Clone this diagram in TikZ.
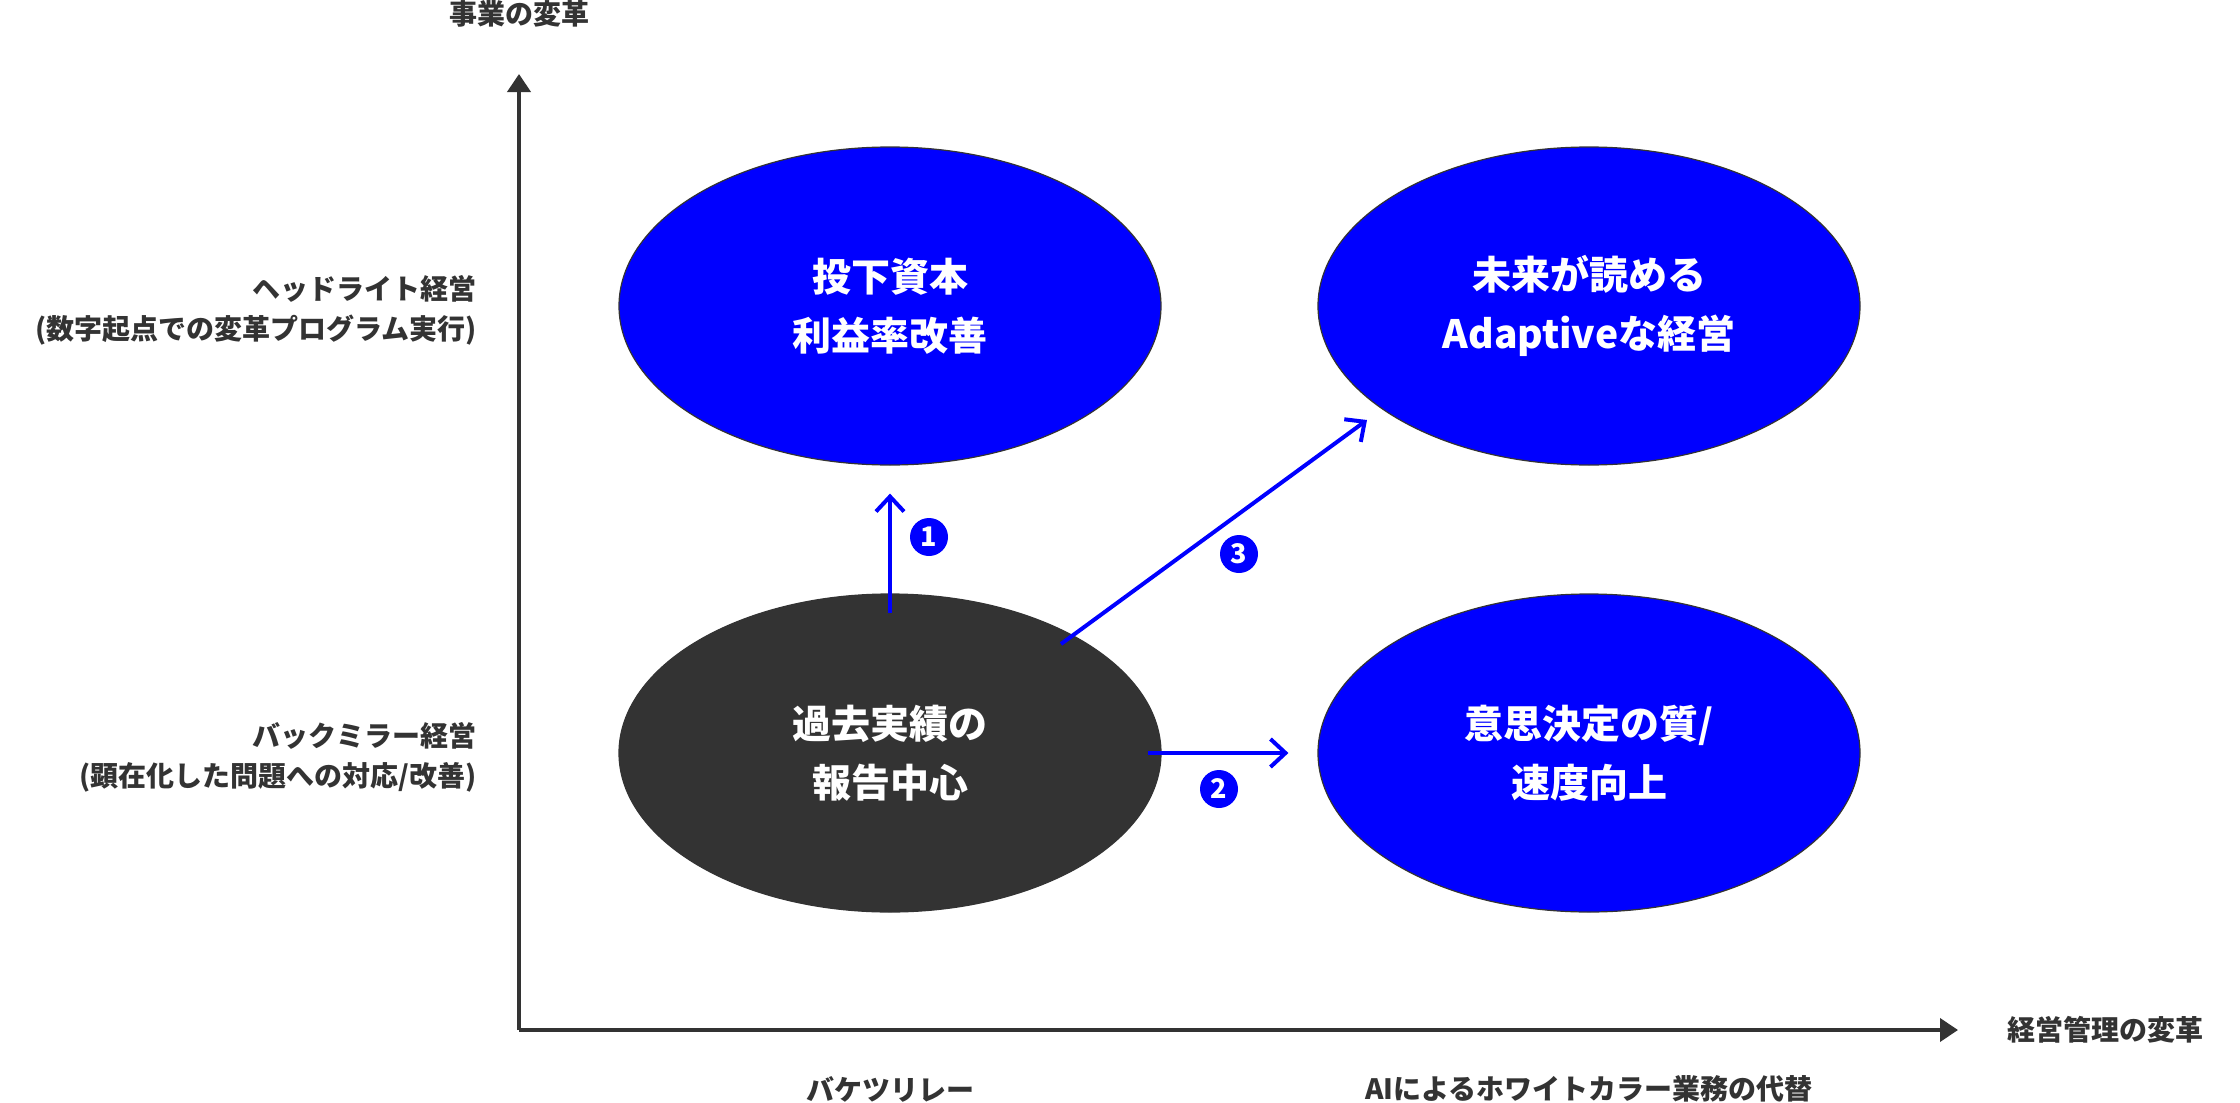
\documentclass[tikz,border=0pt]{standalone}
\usepackage{fontspec}
\setmainfont{Noto Sans CJK JP}
\usetikzlibrary{positioning, calc, arrows.meta, shapes.geometric}
\definecolor{ink}{HTML}{333333}
\definecolor{vivid}{HTML}{0000FF}

\begin{document}
\begin{tikzpicture}[x=0.5pt, y=-0.5pt,
	bubble/.style={ellipse, draw=ink, line width=0.6pt, fill=vivid, text=white, minimum width=271pt, minimum height=159pt, inner sep=0pt, align=center, font=\bfseries\fontsize{19.5}{29.5}\selectfont},
	flow/.style={draw=vivid, line width=2pt, -{Straight Barb[length=7.5pt, width=14pt]}},
	num/.style={circle, fill=vivid, text=white, minimum size=19pt, inner sep=0pt, font=\bfseries\fontsize{13.5}{13.5}\selectfont},
	lbl/.style={text=ink, inner sep=0pt, font=\bfseries\fontsize{14}{20}\selectfont}]
\useasboundingbox (0, 0) rectangle (2240, 1103);
% axes
\coordinate (O) at (519, 1030);
\draw[ink, line width=2pt, -{Triangle[length=9pt, width=11.5pt]}] (O) -- (519, 74) coordinate (ytip);
\draw[ink, line width=2pt, -{Triangle[length=9pt, width=11.5pt]}] (O) -- (1958, 1030) coordinate (xtip);
\node[lbl] (ytitle) at (519, 14) {事業の変革};
\node[lbl, anchor=west] (xtitle) at (2007, 1030) {経営管理の変革};
\node[lbl, anchor=east, align=right] (head) at (477, 310) {ヘッドライト経営\\(数字起点での変革プログラム実行)};
\node[lbl, anchor=east, align=right] (mirror) at (477, 757) {バックミラー経営\\(顕在化した問題への対応/改善)};
\node[lbl] (bucket) at (890, 1089) {バケツリレー};
\node[lbl] (ai) at (1589, 1089) {AIによるホワイトカラー業務の代替};
% quadrants
\node[bubble, fill=ink] (past) at (890, 753) {過去実績の\\報告中心};
\node[bubble] (invest) at (890, 306) {投下資本\\利益率改善};
\node[bubble] (adaptive) at (1589, 306) {未来が読める\\Adaptiveな経営};
\node[bubble] (decide) at (1589, 753) {意思決定の質/\\速度向上};
% moves
\draw[flow, shorten <=-10pt, shorten >=14pt] (past.north) -- (invest.south);
\draw[flow, shorten <=-7pt, shorten >=14.5pt] (past.east) -- (decide.west);
\draw[flow] ($(past)+(171,-109)$) -- ($(adaptive)+(-222,114)$);
\foreach \n/\x/\y in {1/929/537, 2/1219/789, 3/1239/554}
	\node[num] (n\n) at (\x, \y) {\n};
\end{tikzpicture}
\end{document}
